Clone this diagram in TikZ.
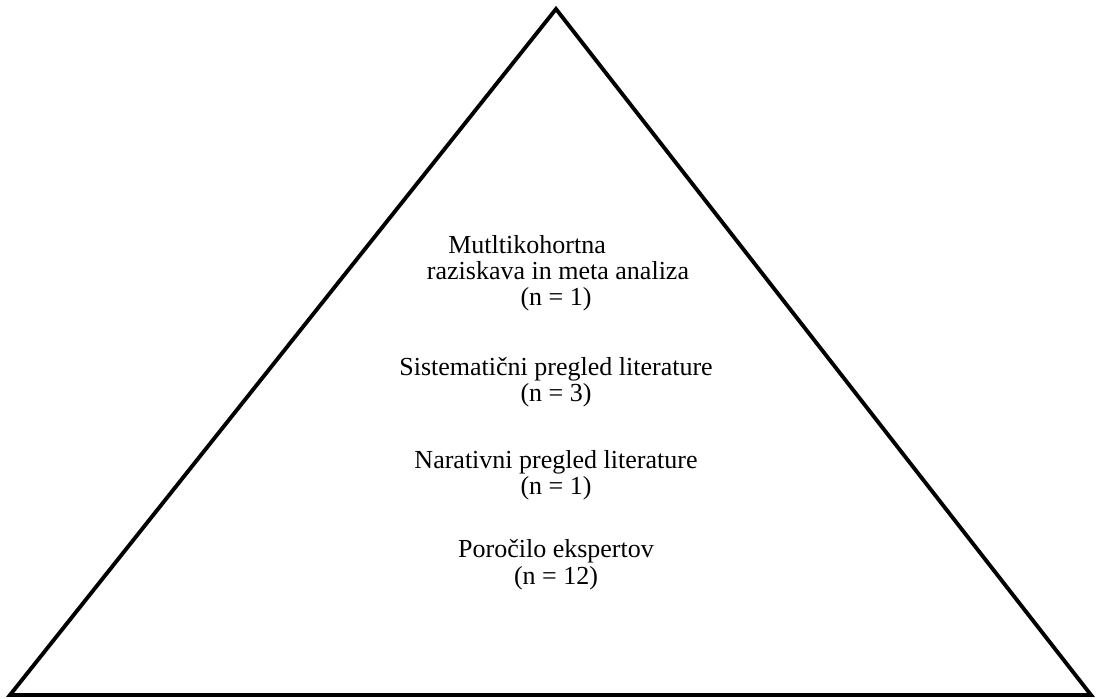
\documentclass[tikz,border=0pt]{standalone}
\usepackage{fontspec}
\setmainfont{Liberation Serif}

\begin{document}
\begin{tikzpicture}[x=0.02cm, y=-0.02cm,
    tier/.style={anchor=base, font=\fontsize{14.8}{15}\selectfont, inner sep=0pt}]
    \useasboundingbox (0, 0) rectangle (1100, 699);
    % pyramid
    \coordinate (top) at (556, 9);
    \coordinate (left) at (10, 695);
    \coordinate (right) at (1091, 695);
    \draw[line width=2.2pt] (top) -- (right) -- (left) -- cycle;
    % multicohort + meta analysis
    \node[tier, anchor=base west] (multi1) at (448, 254) {Mutltikohortna};
    \node[tier] (multi2) at (558, 280) {raziskava in meta analiza};
    \node[tier] (multi3) at (556, 306) {(n = 1)};
    % systematic review
    \node[tier] (sist1) at (556, 376) {Sistematični pregled literature};
    \node[tier] (sist2) at (556, 402) {(n = 3)};
    % narrative review
    \node[tier] (nara1) at (556, 469) {Narativni pregled literature};
    \node[tier] (nara2) at (556, 495) {(n = 1)};
    % expert reports
    \node[tier] (poro1) at (556, 558) {Poročilo ekspertov};
    \node[tier] (poro2) at (556, 584) {(n = 12)};
\end{tikzpicture}
\end{document}
